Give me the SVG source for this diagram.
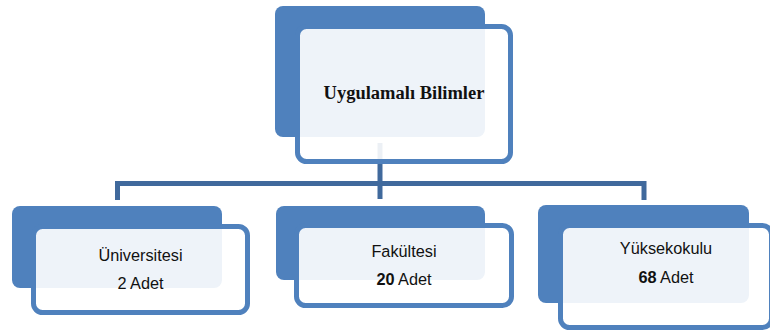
<svg xmlns="http://www.w3.org/2000/svg" width="770" height="332" viewBox="0 0 770 332">
<style>
.back{fill:#4F81BD}
.front{fill:#FFFFFF;fill-opacity:0.9;stroke:#4F81BD;stroke-width:5}
.conn{fill:none;stroke:#40699C;stroke-width:5;stroke-linejoin:miter}
.t{font-family:"Liberation Sans",Arial,sans-serif;font-size:16.3px;fill:#111;text-anchor:middle}
.b{font-weight:bold}
.title{font-family:"Liberation Serif","Times New Roman",serif;font-size:18.5px;font-weight:bold;fill:#111;text-anchor:middle}
</style>
<rect width="770" height="332" fill="#FFFFFF"/>
<g id="connectors">
<path class="conn" d="M380,143 V199"/>
<path class="conn" d="M117.5,200 V183.5 H644 V200"/>
</g>
<g id="node-top">
<rect class="back" x="275" y="6" width="210" height="131" rx="8"/>
<rect class="front" x="297.5" y="26.5" width="213" height="135" rx="9"/>
<text class="title" x="404" y="99">Uygulamalı Bilimler</text>
</g>
<g id="node-universitesi">
<rect class="back" x="12" y="206" width="210" height="82" rx="8"/>
<rect class="front" x="33.5" y="226.5" width="214" height="86" rx="9"/>
<text class="t" x="140.5" y="261">Üniversitesi</text>
<text class="t" x="140.5" y="289">2 Adet</text>
</g>
<g id="node-fakultesi">
<rect class="back" x="276" y="206" width="209" height="74" rx="8"/>
<rect class="front" x="296.5" y="225.5" width="215" height="80" rx="9"/>
<text class="t" x="404" y="257">Fakültesi</text>
<text class="t" x="404" y="285"><tspan class="b">20</tspan> Adet</text>
</g>
<g id="node-yuksekokulu">
<rect class="back" x="538" y="205" width="211" height="98" rx="8"/>
<rect class="front" x="560.5" y="225.5" width="211" height="102" rx="9"/>
<text class="t" x="666" y="254">Yüksekokulu</text>
<text class="t" x="666" y="283"><tspan class="b">68</tspan> Adet</text>
</g>
</svg>
